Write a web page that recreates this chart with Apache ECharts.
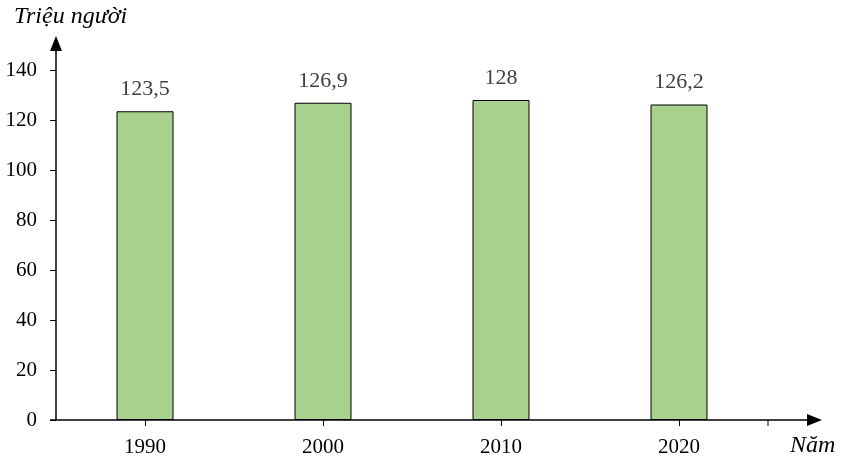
<!DOCTYPE html>
<html><head><meta charset="utf-8">
<script src="https://cdn.jsdelivr.net/npm/echarts@6/dist/echarts.min.js"></script>
<style>html,body{margin:0;padding:0;background:#fff}#c{width:841px;height:466px}</style>
</head><body><div id="c"></div>
<script>
const years = ['1990', '2000', '2010', '2020'];
const population = [123.5, 126.9, 128, 126.2];
const valueLabels = ['123,5', '126,9', '128', '126,2'];
const yTicks = [0, 20, 40, 60, 80, 100, 120, 140];

const G = {left: 56, right: 73, top: 70, bottom: 46};
const W = 841, H = 466;
const x0 = G.left, y0 = H - G.bottom, xEnd = W - G.right;
const font = '"Liberation Serif", "Times New Roman", serif';

const chart = echarts.init(document.getElementById('c'), null, {renderer: 'canvas'});
chart.setOption({
  animation: false,
  backgroundColor: '#fff',
  grid: {left: G.left, right: G.right, top: G.top, bottom: G.bottom},
  xAxis: {
    type: 'category', data: years, boundaryGap: true,
    axisLine: {show: false},
    axisTick: {show: true, alignWithLabel: true, length: 6, lineStyle: {color: '#000', width: 1}},
    axisLabel: {color: '#000', fontFamily: font, fontSize: 21, margin: 17}
  },
  yAxis: {
    type: 'value', min: yTicks[0], max: yTicks[yTicks.length - 1], interval: 20,
    axisLine: {show: false},
    axisTick: {show: true, length: 6, lineStyle: {color: '#000', width: 1}},
    splitLine: {show: false},
    axisLabel: {color: '#000', fontFamily: font, fontSize: 21, margin: 19}
  },
  series: [{
    type: 'bar', data: population, barWidth: 57,
    itemStyle: {color: '#a9d18e', borderColor: '#000', borderWidth: 1},
    label: {show: true, position: 'top', distance: 11, color: '#404040', fontFamily: font, fontSize: 22,
      formatter: p => valueLabels[p.dataIndex]}
  }],
  graphic: [
    {type: 'line', shape: {x1: x0, y1: y0, x2: x0, y2: 50}, style: {stroke: '#000', lineWidth: 1.5}},
    {type: 'polygon', shape: {points: [[x0, 36], [x0 - 6, 51], [x0 + 6, 51]]}, style: {fill: '#000'}},
    {type: 'line', shape: {x1: x0 - 6, y1: y0, x2: 808, y2: y0}, style: {stroke: '#000', lineWidth: 1.5}},
    {type: 'polygon', shape: {points: [[822, y0], [807, y0 - 6], [807, y0 + 6]]}, style: {fill: '#000'}},
    {type: 'line', shape: {x1: xEnd, y1: y0, x2: xEnd, y2: y0 + 6}, style: {stroke: '#000', lineWidth: 1}},
    {type: 'text', left: 14, top: 5, style: {text: 'Triệu người', font: 'italic 24px ' + font, fill: '#000'}},
    {type: 'text', left: 790, top: 434, style: {text: 'Năm', font: 'italic 24px ' + font, fill: '#000'}}
  ]
});
</script></body></html>
